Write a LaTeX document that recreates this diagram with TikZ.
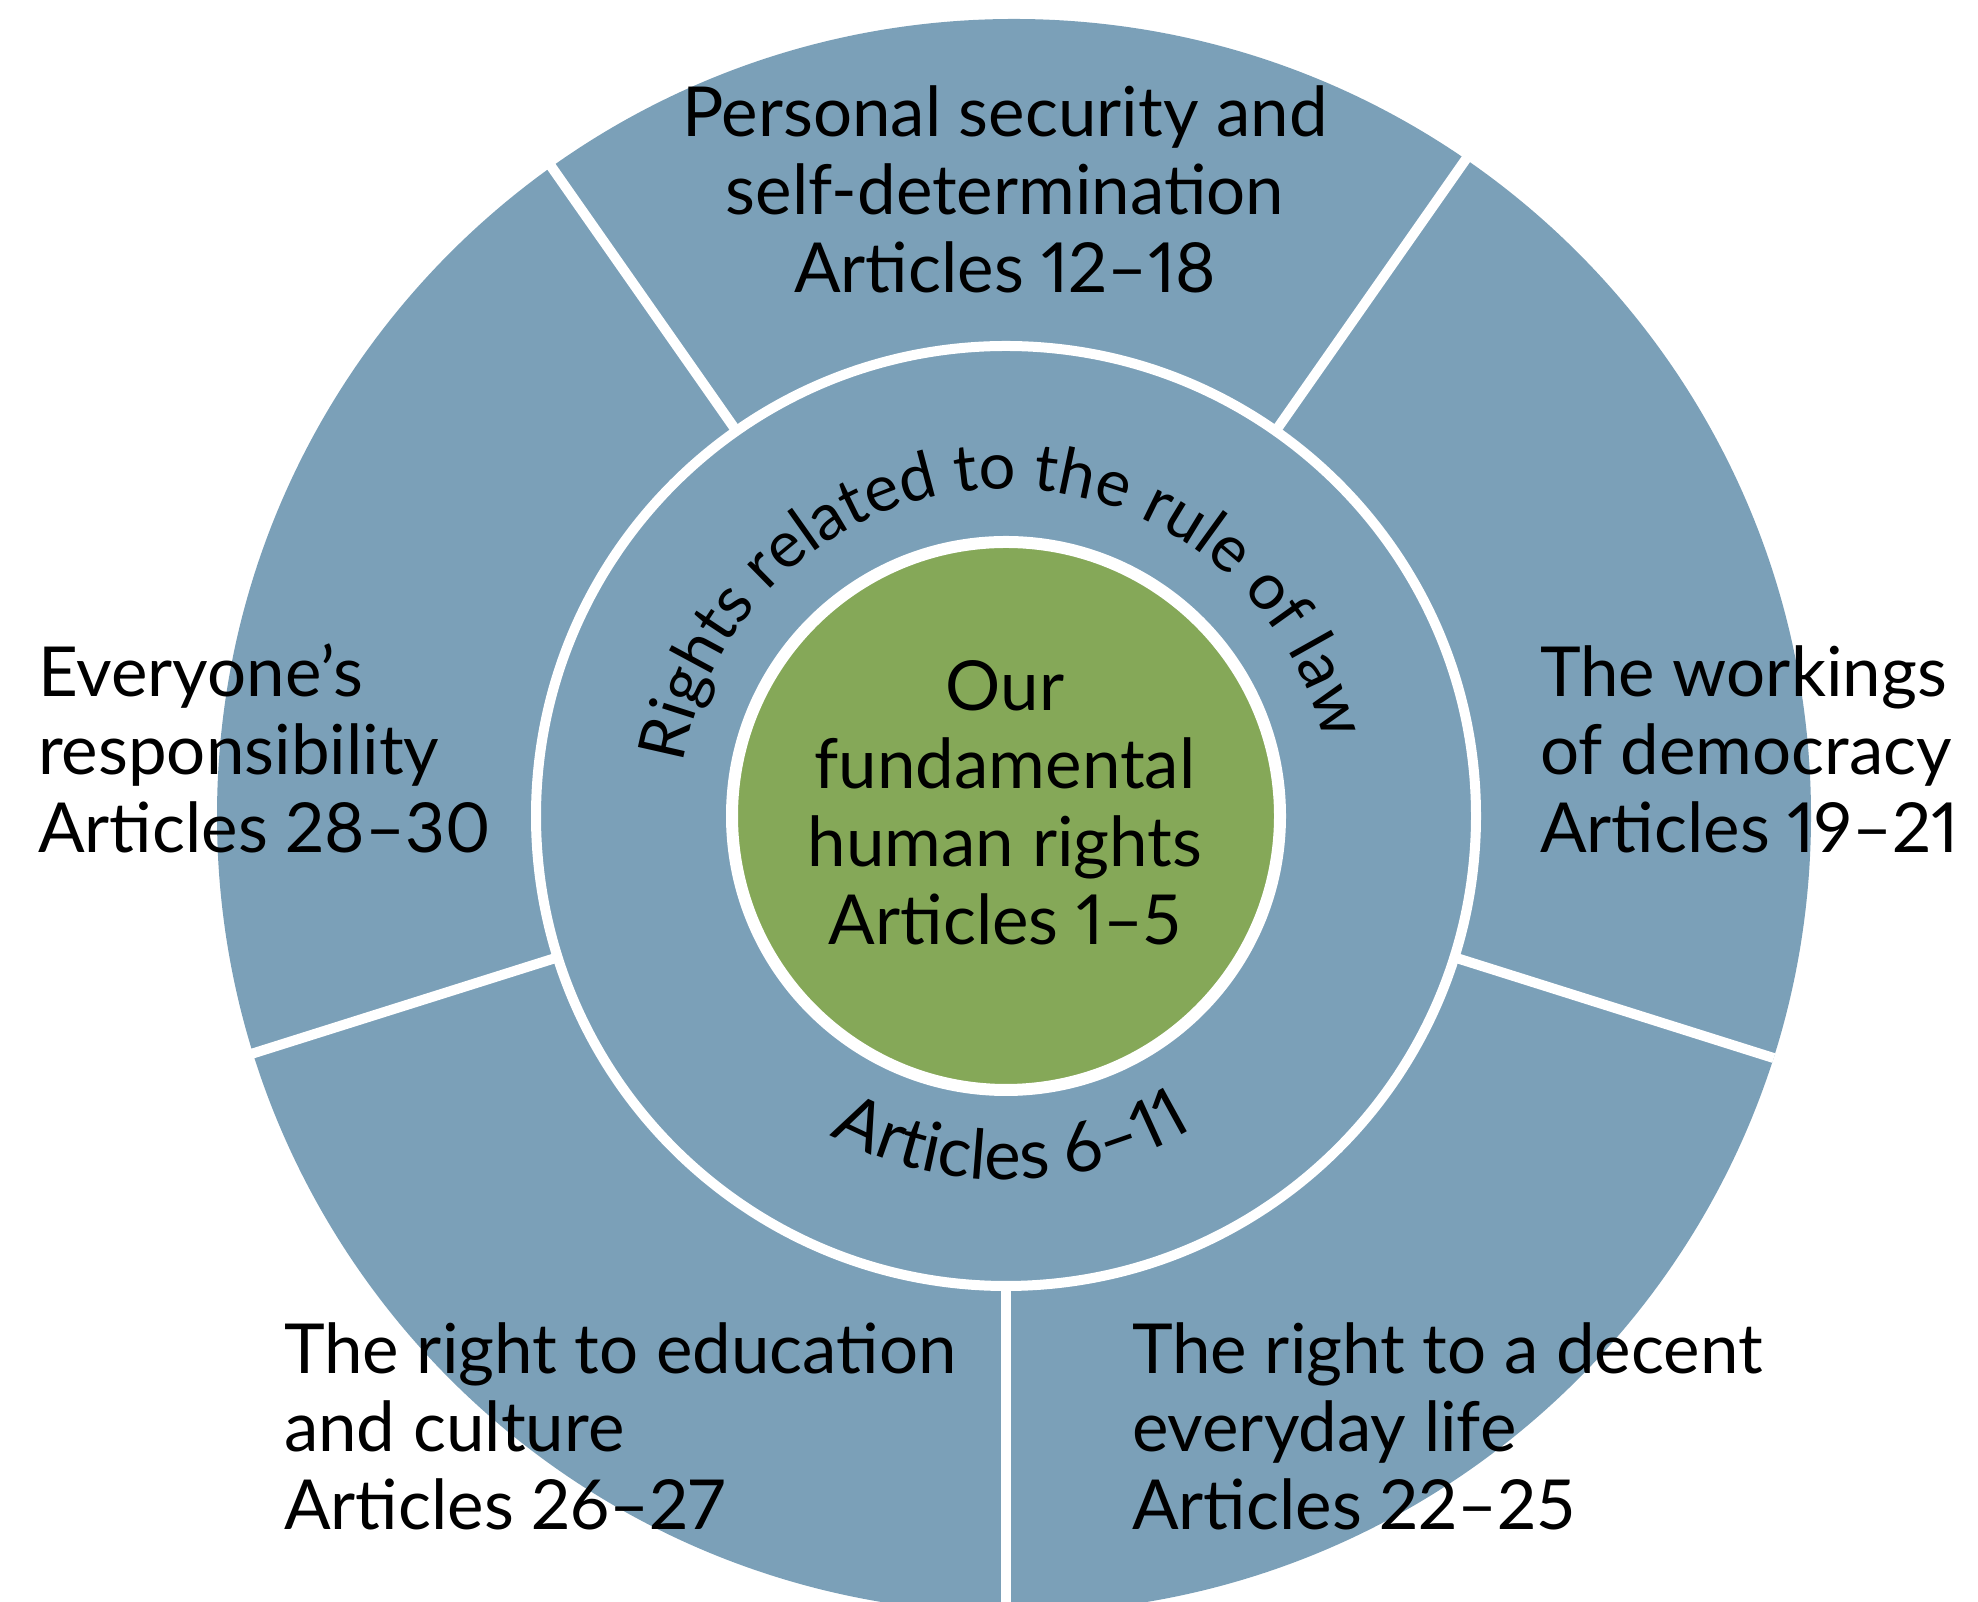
\documentclass[tikz,border=0pt]{standalone}
\usepackage{fontspec}
\setmainfont{Lato}[Numbers=Proportional]
\usetikzlibrary{calc,decorations.text}
\definecolor{ringblue}{RGB}{123,160,184}
\definecolor{coregreen}{RGB}{133,168,88}
\newcommand\arcfont{\fontsize{65}{78}\selectfont}
\newcommand\lowarcfont{\fontsize{69}{78}\selectfont}
\tikzset{
  areatext/.style={font=\fontsize{69}{78}\selectfont, inner sep=0pt},
  divider/.style={white, line width=10pt},
}

\begin{document}
\begin{tikzpicture}[x=1pt,y=1pt]
  \useasboundingbox (0,0) rectangle (1978,1602);
  \coordinate (c) at (1006,786);
  \coordinate (oc) at (1014,786);
  \fill[ringblue] (oc) circle[radius=797];
  \foreach \a in {55,125,197.5,270,342.5} {
    \draw[divider] ($(c)+(\a:465)$) -- ($(c)+(\a:805)$);
  }
  \draw[white, line width=10pt, fill=ringblue] (c) circle[radius=470];
  \draw[white, line width=12pt, fill=coregreen] (c) circle[radius=274];
  % curved texts of the middle ring
  \path[decorate, decoration={text along path, text align=center,
      text={|\arcfont|Rights related to the rule of law}}]
    ($(c)+(182:327)$) arc[start angle=182, end angle=2, radius=327];
  \path[decorate, decoration={text along path, text align=center,
      text={|\lowarcfont|Articles 6–11}}]
    ($(c)+(226:364)$) arc[start angle=226, end angle=316, radius=364];
  % outer ring (base = last line)
  \node[areatext, align=center, anchor=base] (security) at (1005,1309)
    {Personal security and\\self-determination\\Articles 12–18};
  \node[areatext, align=left, anchor=base west] (responsibility) at (38,749)
    {Everyone’s\\responsibility\\Articles 28–30};
  \node[areatext, align=left, anchor=base west] (democracy) at (1540,749)
    {The workings\\of democracy\\Articles 19–21};
  \node[areatext, align=left, anchor=base west] (education) at (284,72)
    {The right to education\\and culture\\Articles 26–27};
  \node[areatext, align=left, anchor=base west] (everyday) at (1132,72)
    {The right to a decent\\everyday life\\Articles 22–25};
  % core
  \node[areatext, align=center, anchor=base] (core) at (1005,657)
    {Our\\fundamental\\human rights\\Articles 1–5};
\end{tikzpicture}
\end{document}
